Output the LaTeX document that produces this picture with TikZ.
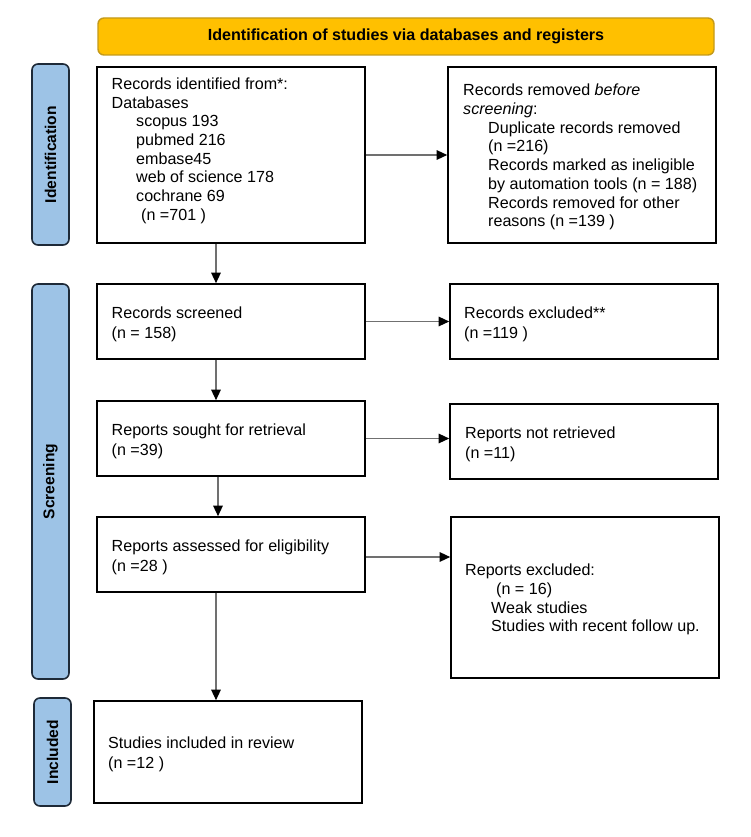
\documentclass[tikz,border=0pt]{standalone}
\usepackage{fontspec}
\setmainfont{Liberation Sans}
\usetikzlibrary{arrows.meta}
\definecolor{gold}{HTML}{FFC000}
\definecolor{goldline}{HTML}{C49A1A}
\definecolor{sideblue}{HTML}{9DC3E6}
\definecolor{sideline}{HTML}{1E2A38}
\definecolor{arrgray}{HTML}{707070}
\begin{document}
\begin{tikzpicture}[x=1pt,y=-1pt,
  box/.style={draw=black,line width=1.6pt,inner sep=0pt},
  side/.style={draw=sideline,fill=sideblue,line width=1.6pt,rounded corners=6pt,rotate=90,inner sep=0pt,font=\fontsize{15.6}{18}\selectfont\bfseries},
  banner/.style={draw=goldline,fill=gold,line width=1.4pt,rounded corners=6pt,inner sep=0pt,font=\fontsize{16.1}{19}\selectfont\bfseries},
  txt/.style={anchor=north west,inner sep=0pt,align=left,font=\fontsize{16.1}{18.7}\selectfont},
  txtb/.style={txt,font=\fontsize{16.1}{19.6}\selectfont},
  arr/.style={draw=arrgray,line width=1.3pt,-{Triangle[length=10.5pt,width=9.5pt,color=black]}}]
\fill[white] (0,0) rectangle (750,837);
\useasboundingbox (0,0) rectangle (750,837);

% banner and phase labels
\node[banner,minimum width=616pt,minimum height=37pt] (ban) at (406,36.5) {Identification of studies via databases and registers};
\node[side,minimum width=181pt,minimum height=37pt] (sid) at (50.5,154.5) {Identification};
\node[side,minimum width=395pt,minimum height=37pt] (ssc) at (50.5,481.5) {Screening};
\node[side,minimum width=108pt,minimum height=37pt] (sin) at (52.5,752) {Included};

% boxes
\node[box,minimum width=268pt,minimum height=176pt] (b1) at (231,155) {};
\node[box,minimum width=268pt,minimum height=176pt] (b2) at (582,155) {};
\node[box,minimum width=268pt,minimum height=75pt] (b3) at (231,321.5) {};
\node[box,minimum width=268pt,minimum height=75pt] (b4) at (584,321.5) {};
\node[box,minimum width=268pt,minimum height=75pt] (b5) at (231,438.5) {};
\node[box,minimum width=268pt,minimum height=75pt] (b6) at (584,441.5) {};
\node[box,minimum width=268pt,minimum height=75pt] (b7) at (231,554.5) {};
\node[box,minimum width=268pt,minimum height=161pt] (b8) at (585,597.5) {};
\node[box,minimum width=268pt,minimum height=102pt] (b9) at (228,752) {};

% texts
\node[txt] (t1) at (111.5,77.5) {Records identified from*:\\Databases\\
\hspace{24.5pt}scopus 193\\\hspace{24.5pt}pubmed 216\\\hspace{24.5pt}embase45\\
\hspace{24.5pt}web of science 178\\\hspace{24.5pt}cochrane 69\\\hspace{29.5pt}(n =701 )};
\node[txt] (t2) at (463,84) {Records removed \textit{before}\\\textit{screening}:\\
\hspace{25pt}Duplicate records removed\\\hspace{25pt}(n =216)\\
\hspace{25pt}Records marked as ineligible\\\hspace{25pt}by automation tools (n = 188)\\
\hspace{25pt}Records removed for other\\\hspace{25pt}reasons (n =139 )};
\node[txtb] (t3) at (111.5,307) {Records screened\\(n = 158)};
\node[txtb] (t4) at (464,307) {Records excluded**\\(n =119 )};
\node[txtb] (t5) at (111.5,424) {Reports sought for retrieval\\(n =39)};
\node[txtb] (t6) at (465,427) {Reports not retrieved\\(n =11)};
\node[txtb] (t7) at (111.5,540) {Reports assessed for eligibility\\(n =28 )};
\node[txt] (t8) at (465,564) {Reports excluded:\\\hspace{31pt}(n = 16)\\
\hspace{26pt}Weak studies\\\hspace{26pt}Studies with recent follow up.};
\node[txtb] (t9) at (108,737) {Studies included in review\\(n =12 )};

% connectors
\draw[arr] (b1.east) -- (b2.west);
\draw[arr] ([xshift=-15pt]b1.south) -- ([xshift=-15pt]b3.north);
\draw[arr] (b3.east) -- (b4.west);
\draw[arr] ([xshift=-15pt]b3.south) -- ([xshift=-15pt]b5.north);
\draw[arr] (b5.east) -- (b5.east -| b6.west);
\draw[arr] ([xshift=-13pt]b5.south) -- ([xshift=-13pt]b7.north);
\draw[arr] ([yshift=-2.5pt]b7.east) -- ([yshift=-2.5pt]b7.east -| b8.west);
\draw[arr] ([xshift=-15pt]b7.south) -- ([xshift=-15pt]b7.south |- b9.north);
\end{tikzpicture}
\end{document}
